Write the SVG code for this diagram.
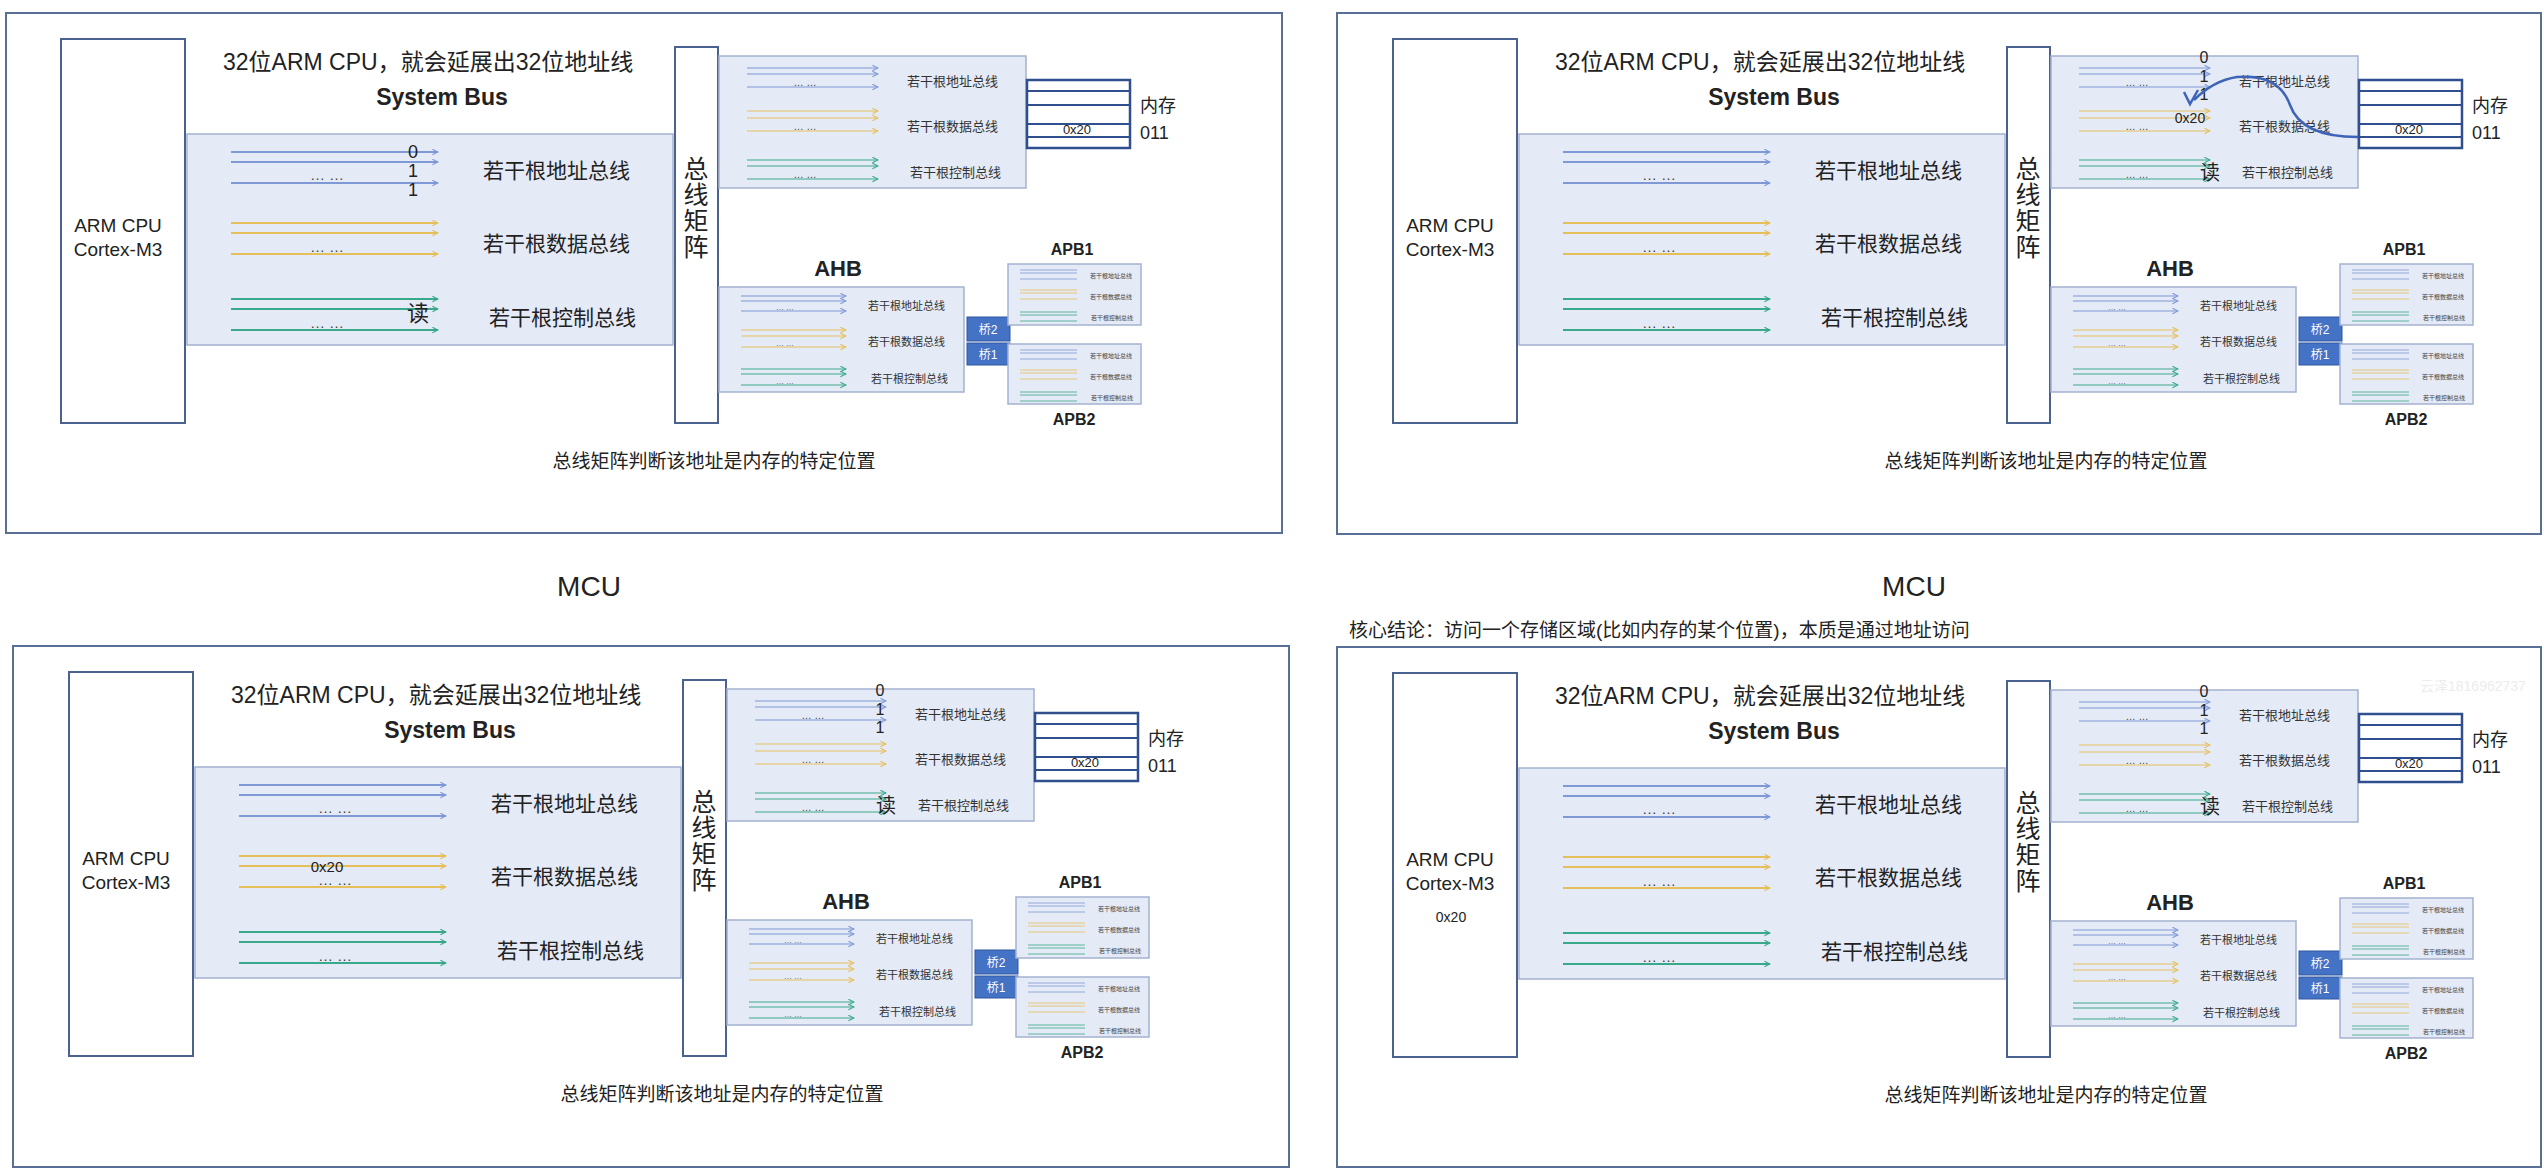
<svg xmlns="http://www.w3.org/2000/svg" xmlns:xlink="http://www.w3.org/1999/xlink" width="2544" height="1174" viewBox="0 0 2544 1174">
<style>
text{font-family:"Liberation Sans","Noto Sans CJK SC",sans-serif;fill:#222}
text.w{fill:#fff}
text.g3{fill:#333}
text.g4{fill:#444}
text.wm{fill:#ececec}
.frame{fill:none;stroke:#5a6f96;stroke-width:2}
.box{fill:#fff;stroke:#4a6290;stroke-width:2}
.bus{fill:#e4eaf6;stroke:#a4b2cf;stroke-width:1.5}
.mem{fill:#fff;stroke:#2f4f8f;stroke-width:2.5}
.a{stroke:#7f98d6;stroke-width:2;marker-end:url(#ma)}
.d{stroke:#e5bf5a;stroke-width:2;marker-end:url(#md)}
.c{stroke:#3aa88a;stroke-width:2;marker-end:url(#mc)}
.a1{stroke:#7f98d6;stroke-width:1.2;marker-end:url(#ma)}
.d1{stroke:#e5bf5a;stroke-width:1.2;marker-end:url(#md)}
.c1{stroke:#3aa88a;stroke-width:1.2;marker-end:url(#mc)}
.a2{stroke:#7f98d6;stroke-width:0.8}
.d2{stroke:#e5bf5a;stroke-width:0.8}
.c2{stroke:#3aa88a;stroke-width:0.8}
.br{fill:#4472c4;stroke:#2f56a0;stroke-width:1}
</style>
<defs>
<marker id="ma" viewBox="0 0 10 10" refX="9" refY="5" markerWidth="7" markerHeight="7" orient="auto" markerUnits="userSpaceOnUse"><path d="M1 1 L9 5 L1 9" fill="none" stroke="#7f98d6" stroke-width="1.5"/></marker>
<marker id="md" viewBox="0 0 10 10" refX="9" refY="5" markerWidth="7" markerHeight="7" orient="auto" markerUnits="userSpaceOnUse"><path d="M1 1 L9 5 L1 9" fill="none" stroke="#e5bf5a" stroke-width="1.5"/></marker>
<marker id="mc" viewBox="0 0 10 10" refX="9" refY="5" markerWidth="7" markerHeight="7" orient="auto" markerUnits="userSpaceOnUse"><path d="M1 1 L9 5 L1 9" fill="none" stroke="#3aa88a" stroke-width="1.5"/></marker>
<g id="base">
  <g id="cpu"><rect class="box" x="61" y="39" width="124" height="384"/>
    <text x="118" y="232" font-size="19" text-anchor="middle">ARM CPU</text>
    <text x="118" y="256" font-size="19" text-anchor="middle">Cortex-M3</text></g>
  <text x="223" y="70" font-size="23">32位ARM CPU，就会延展出32位地址线</text>
  <text x="442" y="105" font-size="23" font-weight="bold" text-anchor="middle">System Bus</text>
  <g id="sysbus"><rect class="bus" x="187" y="134" width="486" height="211"/>
    <line class="a" x1="231" y1="152" x2="438" y2="152"/><line class="a" x1="231" y1="162" x2="438" y2="162"/><line class="a" x1="231" y1="183" x2="438" y2="183"/>
    <line class="d" x1="231" y1="223" x2="438" y2="223"/><line class="d" x1="231" y1="233" x2="438" y2="233"/><line class="d" x1="231" y1="254" x2="438" y2="254"/>
    <line class="c" x1="231" y1="299" x2="438" y2="299"/><line class="c" x1="231" y1="309" x2="438" y2="309"/><line class="c" x1="231" y1="330" x2="438" y2="330"/>
    <text x="327" y="180" font-size="15" class="g4" text-anchor="middle">… …</text>
    <text x="327" y="252" font-size="15" class="g4" text-anchor="middle">… …</text>
    <text x="327" y="328" font-size="15" class="g4" text-anchor="middle">… …</text>
    <text x="483" y="178" font-size="21">若干根地址总线</text>
    <text x="483" y="251" font-size="21">若干根数据总线</text>
    <text x="489" y="325" font-size="21">若干根控制总线</text></g>
  <g id="matrix"><rect class="box" x="675" y="47" width="43" height="376"/>
    <text x="696" y="178" font-size="25" text-anchor="middle">总</text>
    <text x="696" y="204" font-size="25" text-anchor="middle">线</text>
    <text x="696" y="230" font-size="25" text-anchor="middle">矩</text>
    <text x="696" y="256" font-size="25" text-anchor="middle">阵</text></g>
  <g id="upper"><rect class="bus" x="719" y="56" width="307" height="132"/>
    <line class="a1" x1="747" y1="68" x2="878" y2="68"/><line class="a1" x1="747" y1="74" x2="878" y2="74"/><line class="a1" x1="747" y1="87" x2="878" y2="87"/>
    <line class="d1" x1="747" y1="111" x2="878" y2="111"/><line class="d1" x1="747" y1="118" x2="878" y2="118"/><line class="d1" x1="747" y1="131" x2="878" y2="131"/>
    <line class="c1" x1="747" y1="160" x2="878" y2="160"/><line class="c1" x1="747" y1="166" x2="878" y2="166"/><line class="c1" x1="747" y1="179" x2="878" y2="179"/>
    <text x="805" y="86" font-size="10" class="g4" text-anchor="middle">… …</text>
    <text x="805" y="130" font-size="10" class="g4" text-anchor="middle">… …</text>
    <text x="805" y="178" font-size="10" class="g4" text-anchor="middle">… …</text>
    <text x="907" y="86" font-size="13" class="g3">若干根地址总线</text>
    <text x="907" y="131" font-size="13" class="g3">若干根数据总线</text>
    <text x="910" y="177" font-size="13" class="g3">若干根控制总线</text></g>
  <g id="memory"><rect class="mem" x="1027" y="80" width="103" height="68"/>
    <line x1="1027" y1="91" x2="1130" y2="91" stroke="#2f4f8f" stroke-width="2"/>
    <line x1="1027" y1="105" x2="1130" y2="105" stroke="#2f4f8f" stroke-width="2"/>
    <line x1="1027" y1="124" x2="1130" y2="124" stroke="#2f4f8f" stroke-width="2"/>
    <line x1="1027" y1="137" x2="1130" y2="137" stroke="#2f4f8f" stroke-width="2"/>
    <text x="1077" y="134" font-size="13" text-anchor="middle">0x20</text>
    <text x="1140" y="112" font-size="18">内存</text>
    <text x="1140" y="139" font-size="18">011</text></g>
  <text x="838" y="276" font-size="22" font-weight="bold" text-anchor="middle">AHB</text>
  <g id="ahb"><rect class="bus" x="719" y="287" width="245" height="105"/>
    <line class="a1" x1="741" y1="296" x2="846" y2="296"/><line class="a1" x1="741" y1="301" x2="846" y2="301"/><line class="a1" x1="741" y1="311" x2="846" y2="311"/>
    <line class="d1" x1="741" y1="330" x2="846" y2="330"/><line class="d1" x1="741" y1="336" x2="846" y2="336"/><line class="d1" x1="741" y1="347" x2="846" y2="347"/>
    <line class="c1" x1="741" y1="369" x2="846" y2="369"/><line class="c1" x1="741" y1="374" x2="846" y2="374"/><line class="c1" x1="741" y1="385" x2="846" y2="385"/>
    <text x="785" y="310" font-size="8" class="g4" text-anchor="middle">… …</text>
    <text x="785" y="346" font-size="8" class="g4" text-anchor="middle">… …</text>
    <text x="785" y="384" font-size="8" class="g4" text-anchor="middle">… …</text>
    <text x="868" y="310" font-size="11" class="g3">若干根地址总线</text>
    <text x="868" y="346" font-size="11" class="g3">若干根数据总线</text>
    <text x="871" y="383" font-size="11" class="g3">若干根控制总线</text></g>
  <g id="bridges"><rect class="br" x="967" y="317" width="43" height="24"/><text x="988" y="334" font-size="12" class="w" text-anchor="middle">桥2</text>
    <rect class="br" x="967" y="343" width="43" height="22"/><text x="988" y="359" font-size="12" class="w" text-anchor="middle">桥1</text></g>
  <text x="1072" y="255" font-size="16" font-weight="bold" text-anchor="middle">APB1</text>
  <g id="apb1"><rect class="bus" x="1008" y="264" width="133" height="61"/>
    <line class="a2" x1="1020" y1="270" x2="1077" y2="270"/><line class="a2" x1="1020" y1="273" x2="1077" y2="273"/><line class="a2" x1="1020" y1="279" x2="1077" y2="279"/>
    <line class="d2" x1="1020" y1="290" x2="1077" y2="290"/><line class="d2" x1="1020" y1="293" x2="1077" y2="293"/><line class="d2" x1="1020" y1="299" x2="1077" y2="299"/>
    <line class="c2" x1="1020" y1="312" x2="1077" y2="312"/><line class="c2" x1="1020" y1="315" x2="1077" y2="315"/><line class="c2" x1="1020" y1="321" x2="1077" y2="321"/>
    <text x="1090" y="278" font-size="6" class="g4">若干根地址总线</text>
    <text x="1090" y="299" font-size="6" class="g4">若干根数据总线</text>
    <text x="1091" y="320" font-size="6" class="g4">若干根控制总线</text></g>
  <g id="apb2"><rect class="bus" x="1008" y="344" width="133" height="60"/>
    <line class="a2" x1="1020" y1="350" x2="1077" y2="350"/><line class="a2" x1="1020" y1="353" x2="1077" y2="353"/><line class="a2" x1="1020" y1="359" x2="1077" y2="359"/>
    <line class="d2" x1="1020" y1="370" x2="1077" y2="370"/><line class="d2" x1="1020" y1="373" x2="1077" y2="373"/><line class="d2" x1="1020" y1="379" x2="1077" y2="379"/>
    <line class="c2" x1="1020" y1="392" x2="1077" y2="392"/><line class="c2" x1="1020" y1="395" x2="1077" y2="395"/><line class="c2" x1="1020" y1="401" x2="1077" y2="401"/>
    <text x="1090" y="358" font-size="6" class="g4">若干根地址总线</text>
    <text x="1090" y="379" font-size="6" class="g4">若干根数据总线</text>
    <text x="1091" y="400" font-size="6" class="g4">若干根控制总线</text></g>
  <text x="1074" y="425" font-size="16" font-weight="bold" text-anchor="middle">APB2</text>
  <text x="714" y="468" font-size="19" text-anchor="middle">总线矩阵判断该地址是内存的特定位置</text>
</g>
<g id="upperbits">
  <text x="872" y="63" font-size="16" text-anchor="middle">0</text>
  <text x="872" y="82" font-size="16" text-anchor="middle">1</text>
  <text x="872" y="100" font-size="16" text-anchor="middle">1</text>
  <text x="878" y="180" font-size="20" text-anchor="middle">读</text>
</g>
</defs>
<rect x="0" y="0" width="2544" height="1174" fill="#fff"/>
<rect class="frame" x="6" y="13" width="1276" height="520"/>
<rect class="frame" x="1337" y="13" width="1204" height="521"/>
<rect class="frame" x="13" y="646" width="1276" height="521"/>
<rect class="frame" x="1337" y="647" width="1204" height="520"/>
<text x="589" y="596" font-size="28" text-anchor="middle">MCU</text>
<text x="1914" y="596" font-size="28" text-anchor="middle">MCU</text>
<text x="1349" y="637" font-size="19">核心结论：访问一个存储区域(比如内存的某个位置)，本质是通过地址访问</text>
<g id="panel1">
  <use xlink:href="#base"/>
  <text x="413" y="158" font-size="18" text-anchor="middle">0</text>
  <text x="413" y="177" font-size="18" text-anchor="middle">1</text>
  <text x="413" y="196" font-size="18" text-anchor="middle">1</text>
  <text x="418" y="321" font-size="22" text-anchor="middle">读</text>
</g>
<g id="panel2" transform="translate(1332,0)">
  <use xlink:href="#base"/>
  <use xlink:href="#upperbits"/>
  <text x="858" y="123" font-size="14" text-anchor="middle">0x20</text>
  <path d="M1026 137 C985 137 965 125 958 105 C950 82 930 75 905 77 C885 80 872 90 862 100 M852 92 L858 104 L866 90" fill="none" stroke="#3d64b8" stroke-width="2.5"/>
</g>
<g id="panel3" transform="translate(8,633)">
  <use xlink:href="#base"/>
  <use xlink:href="#upperbits"/>
  <text x="319" y="239" font-size="15" text-anchor="middle">0x20</text>
</g>
<g id="panel4" transform="translate(1332,634)">
  <use xlink:href="#base"/>
  <use xlink:href="#upperbits"/>
  <text x="119" y="288" font-size="14" text-anchor="middle">0x20</text>
  <text x="1088" y="57" font-size="14" class="wm">云泽1816962737</text>
</g>
</svg>
